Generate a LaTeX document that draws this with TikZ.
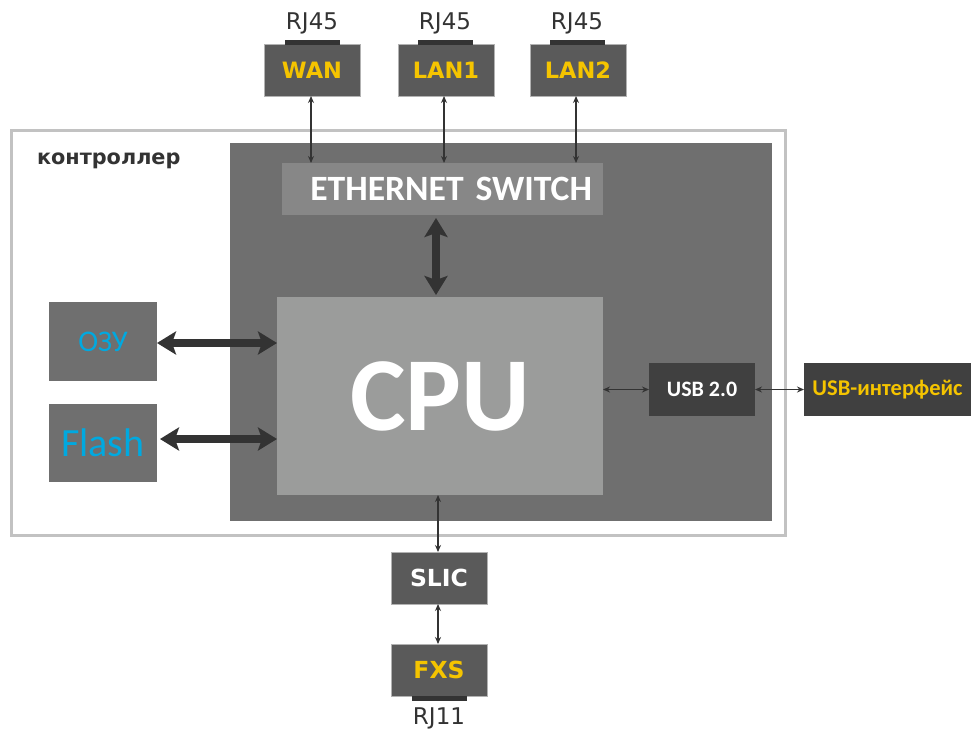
\documentclass[tikz,border=0pt]{standalone}
\usepackage{fontspec}
\setmainfont{DejaVu Sans}
\newfontfamily\calib{Carlito}
\usetikzlibrary{arrows.meta}
\definecolor{frame}{HTML}{C2C2C2}
\definecolor{inner}{HTML}{6F6F6F}
\definecolor{switchc}{HTML}{878787}
\definecolor{cpuc}{HTML}{9B9C9B}
\definecolor{portc}{HTML}{5A5A5A}
\definecolor{usbc}{HTML}{404040}
\definecolor{barc}{HTML}{333333}
\definecolor{yel}{HTML}{F5C400}
\definecolor{cyanc}{HTML}{00A9E0}
\definecolor{txt}{HTML}{333333}
\tikzset{
  box/.style={inner sep=0pt, outer sep=0pt, anchor=center},
  port/.style={box, fill=portc, draw=gray!60, line width=0.6pt, minimum width=96pt, minimum height=52pt, text=yel, font=\bfseries\fontsize{22.5}{26}\selectfont},
  bar/.style={box, fill=barc, minimum width=55pt, minimum height=5pt},
  rj/.style={box, text=txt, font=\fontsize{23}{26}\selectfont},
  thin/.style={draw=barc, line width=1.3pt, {Stealth[length=7pt,width=6pt]}-{Stealth[length=7pt,width=6pt]}},
  fat/.style={draw=barc, line width=8pt, {Stealth[length=19pt,width=23pt,inset=4pt]}-{Stealth[length=19pt,width=23pt,inset=4pt]}},
}
\begin{document}
\begin{tikzpicture}[x=1pt,y=-1pt]
\useasboundingbox (0,0) rectangle (971,729);
\fill[white] (0,0) rectangle (971,729);
% frames
\node[box, draw=frame, line width=3pt, minimum width=774pt, minimum height=405pt] (ctrl) at (398,332.5) {};
\node[box, anchor=west, text=txt, font=\bfseries\fontsize{20.8}{24}\selectfont] (ctrlT) at (37,161) {контроллер};
\node[box, fill=inner, minimum width=542pt, minimum height=378pt] (inner) at (501,332) {};
% switch and cpu
\node[box, fill=switchc, minimum width=321pt, minimum height=52pt, text width=299pt, align=right, text=white, font=\calib\bfseries\fontsize{35.6}{40}\selectfont] (sw) at (442.5,189) {ETHERNET SWITCH};
\node[box, fill=cpuc, minimum width=326pt, minimum height=198pt, text=white, font=\calib\bfseries\fontsize{105}{115}\selectfont] (cpu) at (440,396) {CPU};
% memory
\node[box, fill=inner, minimum width=108pt, minimum height=79pt, text=cyanc, font=\calib\fontsize{30}{34}\selectfont] (ram) at (103,341.5) {ОЗУ};
\node[box, fill=inner, minimum width=108pt, minimum height=78pt, text=cyanc, font=\calib\fontsize{40}{44}\selectfont] (flash) at (103,443) {Flash};
% ports
\node[port] (wan) at (312,70) {WAN};
\node[port] (lan1) at (446,70) {LAN1};
\node[port] (lan2) at (578,70) {LAN2};
\node[bar] (wanb) at (312.5,42) {};
\node[bar] (lan1b) at (445.5,42) {};
\node[bar] (lan2b) at (577.5,42) {};
\node[rj] (wanl) at (312,23) {RJ45};
\node[rj] (lan1l) at (445,23) {RJ45};
\node[rj] (lan2l) at (577,23) {RJ45};
% usb
\node[box, fill=usbc, minimum width=106pt, minimum height=53pt, text=white, font=\calib\bfseries\fontsize{22}{26}\selectfont] (usb) at (702,389.5) {USB 2.0};
\node[box, fill=usbc, minimum width=167pt, minimum height=53pt, text=yel, font=\calib\bfseries\fontsize{22.5}{26}\selectfont] (usbi) at (887.5,389.5) {USB-интерфейс};
% slic / fxs
\node[port, text=white, font=\bfseries\fontsize{23.5}{26}\selectfont] (slic) at (439,578) {SLIC};
\node[port, font=\bfseries\fontsize{23.5}{26}\selectfont] (fxs) at (439,670) {FXS};
\node[bar] (fxsb) at (439.5,698) {};
\node[rj] (rj11) at (439,718) {RJ11};
% connectors
\draw[thin] ([xshift=-1pt]wan.south) -- ([xshift=-1pt]wan.south |- sw.north);
\draw[thin] ([xshift=-2pt]lan1.south) -- ([xshift=-2pt]lan1.south |- sw.north);
\draw[thin] ([xshift=-2pt]lan2.south) -- ([xshift=-2pt]lan2.south |- sw.north);
\draw[fat] ([xshift=-6.5pt,yshift=-3pt]sw.south) -- ([xshift=-6.5pt,yshift=2pt]sw.south |- cpu.north);
\draw[fat] ([yshift=-1.5pt]ram.east) -- ([yshift=-1.5pt]ram.east -| cpu.west);
\draw[fat] ([xshift=3pt,yshift=4pt]flash.east) -- ([yshift=4pt]flash.east -| cpu.west);
\draw[thin] (usb.west -| cpu.east) -- (usb.west);
\draw[thin] (usb.east) -- (usbi.west);
\draw[thin] ([xshift=-1pt]slic.north |- cpu.south) -- ([xshift=-1pt]slic.north);
\draw[thin] ([xshift=-1pt]slic.south) -- ([xshift=-1pt]fxs.north);
\end{tikzpicture}
\end{document}
